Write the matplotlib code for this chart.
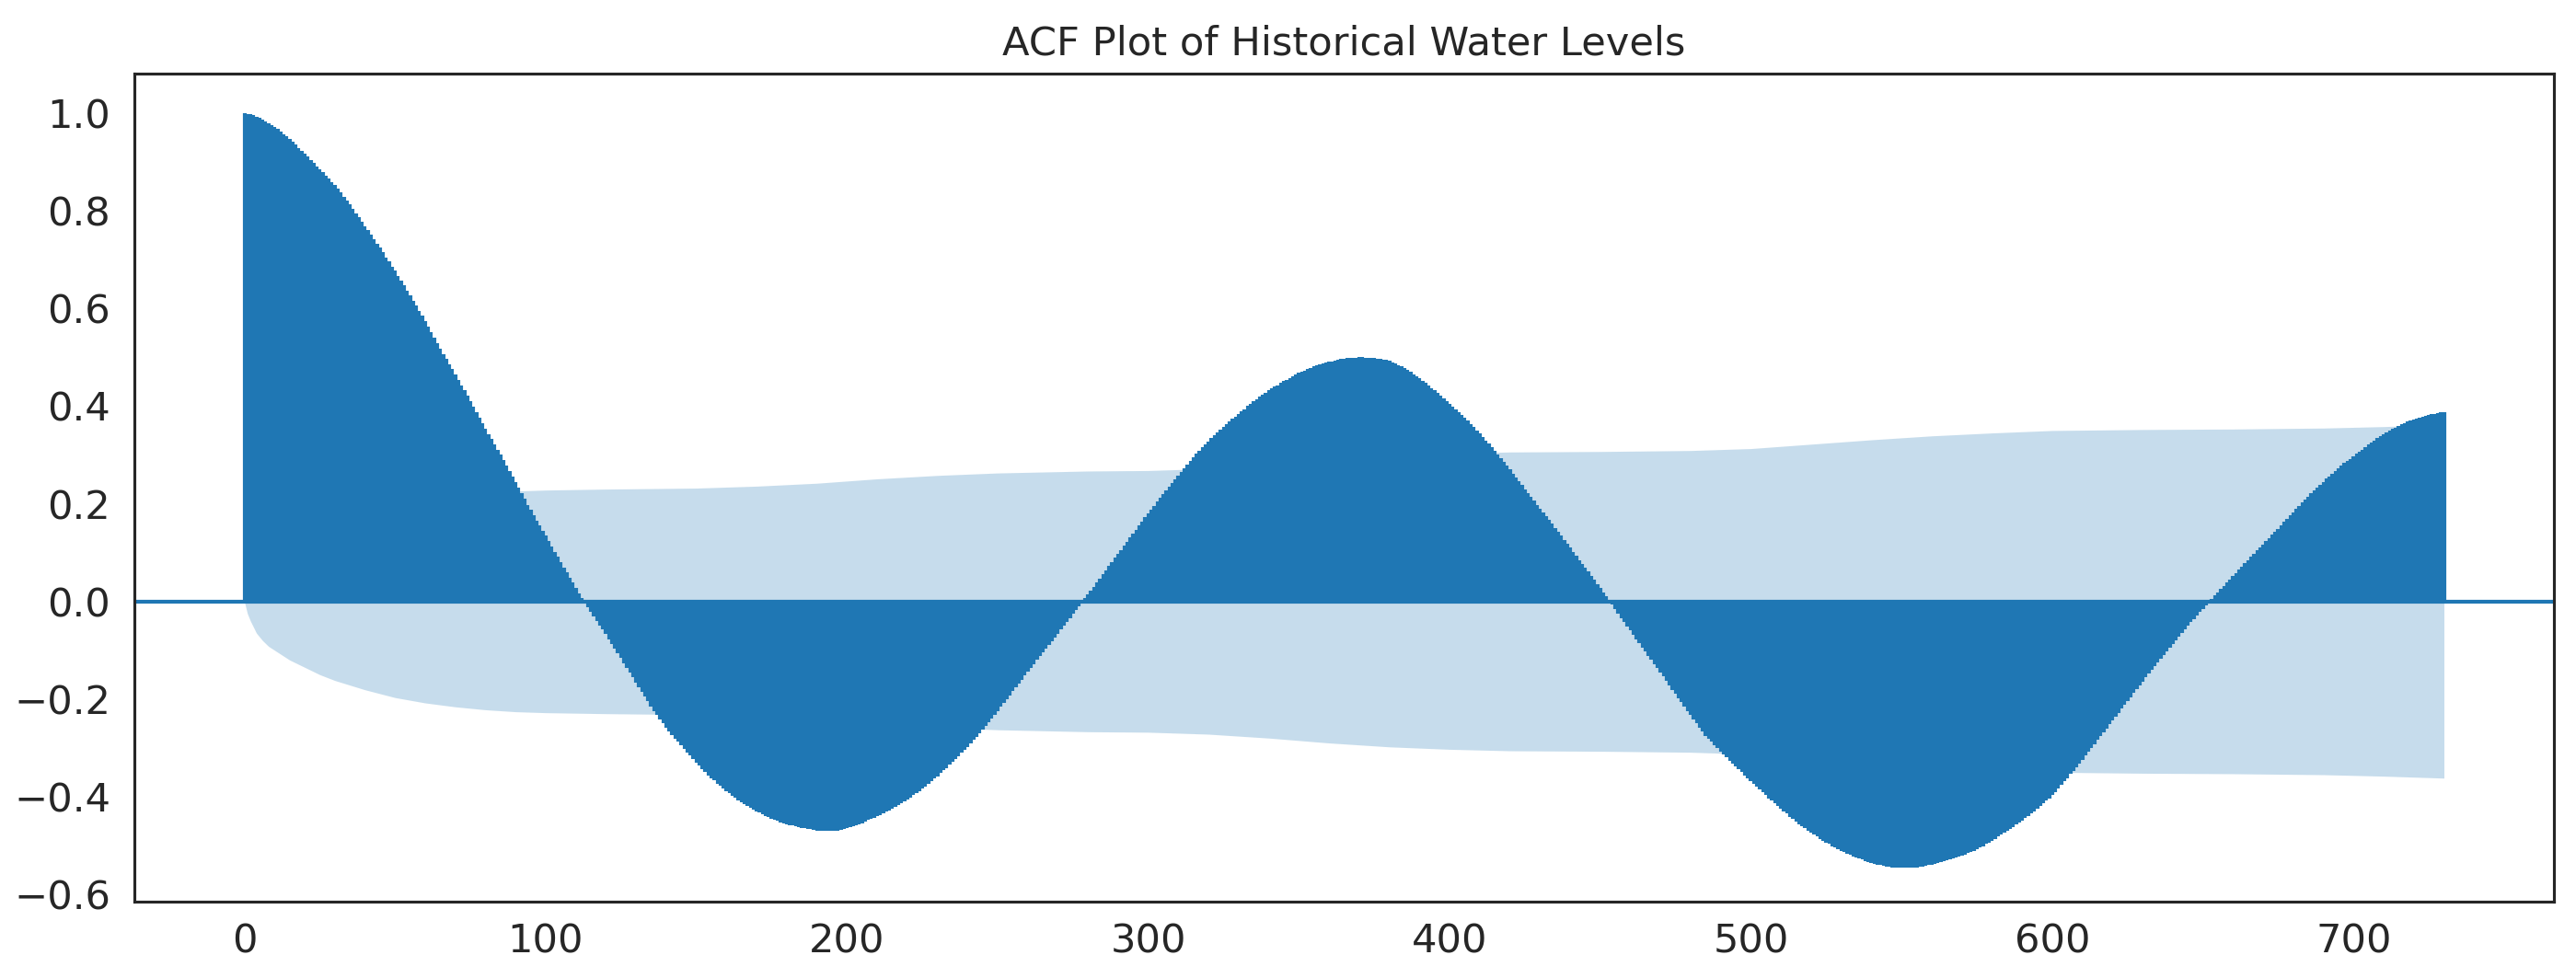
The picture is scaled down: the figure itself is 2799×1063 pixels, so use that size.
import numpy as np
import matplotlib
matplotlib.use("Agg")
import matplotlib.pyplot as plt

# acf value of each lag (0..730)
acf_values = [
    1.000, 0.999, 0.998, 0.996, 0.993, 0.990, 0.986, 0.983, 0.979, 0.976,
    0.972, 0.967, 0.962, 0.957, 0.952, 0.947, 0.941, 0.935, 0.929, 0.923,
    0.917, 0.911, 0.904, 0.898, 0.891, 0.885, 0.879, 0.872, 0.866, 0.859,
    0.853, 0.845, 0.837, 0.829, 0.821, 0.813, 0.804, 0.795, 0.787, 0.778,
    0.769, 0.760, 0.751, 0.742, 0.733, 0.724, 0.715, 0.705, 0.696, 0.686,
    0.677, 0.667, 0.657, 0.647, 0.637, 0.627, 0.616, 0.606, 0.595, 0.585,
    0.574, 0.563, 0.552, 0.540, 0.529, 0.518, 0.507, 0.497, 0.486, 0.476,
    0.465, 0.454, 0.443, 0.432, 0.421, 0.410, 0.399, 0.388, 0.376, 0.365,
    0.354, 0.343, 0.332, 0.322, 0.311, 0.300, 0.289, 0.278, 0.266, 0.255,
    0.244, 0.233, 0.221, 0.210, 0.198, 0.187, 0.177, 0.166, 0.156, 0.145,
    0.135, 0.124, 0.113, 0.102, 0.091, 0.080, 0.069, 0.059, 0.048, 0.038,
    0.027, 0.017, 0.007, -0.002, -0.012, -0.022, -0.031, -0.040, -0.049, -0.058,
    -0.067, -0.077, -0.087, -0.096, -0.106, -0.116, -0.126, -0.136, -0.146, -0.156,
    -0.166, -0.176, -0.186, -0.195, -0.205, -0.215, -0.224, -0.233, -0.241, -0.250,
    -0.259, -0.266, -0.273, -0.281, -0.288, -0.295, -0.302, -0.309, -0.316, -0.323,
    -0.330, -0.336, -0.343, -0.349, -0.356, -0.362, -0.367, -0.373, -0.378, -0.384,
    -0.389, -0.393, -0.398, -0.402, -0.407, -0.411, -0.415, -0.419, -0.422, -0.426,
    -0.430, -0.433, -0.436, -0.439, -0.442, -0.445, -0.447, -0.449, -0.452, -0.454,
    -0.456, -0.458, -0.459, -0.461, -0.462, -0.464, -0.465, -0.466, -0.467, -0.468,
    -0.469, -0.469, -0.470, -0.470, -0.470, -0.470, -0.470, -0.469, -0.468, -0.467,
    -0.465, -0.463, -0.461, -0.458, -0.456, -0.454, -0.451, -0.448, -0.446, -0.443,
    -0.440, -0.437, -0.434, -0.431, -0.428, -0.425, -0.421, -0.417, -0.414, -0.410,
    -0.406, -0.402, -0.397, -0.393, -0.388, -0.384, -0.379, -0.374, -0.368, -0.363,
    -0.358, -0.352, -0.346, -0.341, -0.335, -0.329, -0.323, -0.317, -0.310, -0.304,
    -0.298, -0.291, -0.284, -0.277, -0.270, -0.263, -0.255, -0.247, -0.240, -0.232,
    -0.224, -0.216, -0.208, -0.200, -0.192, -0.184, -0.176, -0.168, -0.160, -0.152,
    -0.144, -0.136, -0.128, -0.120, -0.112, -0.104, -0.096, -0.089, -0.081, -0.074,
    -0.066, -0.058, -0.050, -0.042, -0.034, -0.026, -0.018, -0.010, -0.002, 0.006,
    0.014, 0.022, 0.030, 0.039, 0.047, 0.055, 0.063, 0.072, 0.080, 0.089,
    0.097, 0.105, 0.114, 0.122, 0.131, 0.139, 0.147, 0.155, 0.164, 0.172,
    0.180, 0.188, 0.196, 0.204, 0.212, 0.220, 0.228, 0.235, 0.243, 0.250,
    0.258, 0.265, 0.273, 0.280, 0.288, 0.295, 0.302, 0.308, 0.315, 0.321,
    0.328, 0.334, 0.340, 0.346, 0.352, 0.358, 0.363, 0.368, 0.374, 0.379,
    0.384, 0.389, 0.394, 0.400, 0.405, 0.410, 0.414, 0.419, 0.423, 0.428,
    0.432, 0.436, 0.440, 0.443, 0.447, 0.451, 0.454, 0.458, 0.461, 0.465,
    0.468, 0.471, 0.473, 0.476, 0.478, 0.481, 0.483, 0.485, 0.487, 0.489,
    0.491, 0.492, 0.493, 0.495, 0.496, 0.497, 0.498, 0.498, 0.499, 0.499,
    0.500, 0.500, 0.499, 0.499, 0.498, 0.498, 0.497, 0.496, 0.495, 0.494,
    0.493, 0.490, 0.487, 0.484, 0.481, 0.478, 0.474, 0.470, 0.465, 0.461,
    0.457, 0.452, 0.447, 0.442, 0.437, 0.432, 0.427, 0.421, 0.416, 0.410,
    0.405, 0.399, 0.393, 0.388, 0.382, 0.376, 0.370, 0.363, 0.357, 0.350,
    0.344, 0.337, 0.330, 0.323, 0.316, 0.309, 0.301, 0.293, 0.286, 0.278,
    0.270, 0.262, 0.254, 0.246, 0.238, 0.230, 0.222, 0.214, 0.206, 0.198,
    0.190, 0.182, 0.174, 0.167, 0.159, 0.151, 0.143, 0.135, 0.126, 0.118,
    0.110, 0.102, 0.094, 0.085, 0.077, 0.069, 0.061, 0.052, 0.044, 0.035,
    0.027, 0.018, 0.010, 0.001, -0.007, -0.016, -0.025, -0.034, -0.042, -0.051,
    -0.060, -0.069, -0.077, -0.086, -0.094, -0.103, -0.111, -0.120, -0.128, -0.137,
    -0.145, -0.154, -0.163, -0.172, -0.181, -0.190, -0.199, -0.207, -0.216, -0.224,
    -0.233, -0.241, -0.250, -0.258, -0.267, -0.275, -0.282, -0.288, -0.295, -0.301,
    -0.308, -0.314, -0.320, -0.326, -0.332, -0.338, -0.344, -0.350, -0.356, -0.362,
    -0.368, -0.374, -0.380, -0.385, -0.391, -0.397, -0.403, -0.408, -0.414, -0.419,
    -0.425, -0.430, -0.435, -0.441, -0.446, -0.451, -0.456, -0.460, -0.465, -0.469,
    -0.474, -0.478, -0.482, -0.486, -0.490, -0.494, -0.497, -0.501, -0.504, -0.508,
    -0.511, -0.514, -0.517, -0.519, -0.522, -0.525, -0.527, -0.529, -0.532, -0.534,
    -0.536, -0.537, -0.539, -0.540, -0.542, -0.543, -0.544, -0.545, -0.545, -0.546,
    -0.546, -0.546, -0.546, -0.546, -0.545, -0.545, -0.544, -0.543, -0.541, -0.540,
    -0.539, -0.537, -0.536, -0.534, -0.533, -0.531, -0.529, -0.527, -0.525, -0.523,
    -0.521, -0.518, -0.516, -0.513, -0.511, -0.508, -0.504, -0.501, -0.497, -0.494,
    -0.490, -0.486, -0.482, -0.478, -0.474, -0.470, -0.466, -0.462, -0.457, -0.453,
    -0.449, -0.444, -0.439, -0.435, -0.430, -0.425, -0.419, -0.414, -0.408, -0.403,
    -0.397, -0.390, -0.383, -0.376, -0.369, -0.362, -0.354, -0.347, -0.339, -0.332,
    -0.324, -0.316, -0.308, -0.300, -0.292, -0.284, -0.276, -0.268, -0.260, -0.252,
    -0.244, -0.236, -0.228, -0.220, -0.212, -0.204, -0.196, -0.188, -0.180, -0.172,
    -0.164, -0.156, -0.148, -0.141, -0.133, -0.125, -0.117, -0.110, -0.102, -0.095,
    -0.087, -0.080, -0.072, -0.065, -0.057, -0.050, -0.043, -0.036, -0.029, -0.022,
    -0.015, -0.008, -0.001, 0.005, 0.012, 0.019, 0.026, 0.032, 0.039, 0.045,
    0.052, 0.058, 0.065, 0.071, 0.078, 0.084, 0.091, 0.097, 0.104, 0.110,
    0.117, 0.123, 0.130, 0.136, 0.143, 0.149, 0.156, 0.163, 0.169, 0.176,
    0.183, 0.189, 0.196, 0.202, 0.209, 0.215, 0.221, 0.227, 0.233, 0.239,
    0.245, 0.251, 0.256, 0.262, 0.267, 0.273, 0.278, 0.283, 0.287, 0.292,
    0.297, 0.302, 0.307, 0.311, 0.316, 0.321, 0.325, 0.329, 0.334, 0.338,
    0.342, 0.346, 0.349, 0.353, 0.356, 0.360, 0.363, 0.365, 0.368, 0.370,
    0.373, 0.375, 0.377, 0.378, 0.380, 0.382, 0.383, 0.384, 0.386, 0.387,
    0.388,
]

# confidence band half width, read at a few lags
band_lags = [0, 1, 2, 4, 6, 8, 10, 15, 20, 25, 30, 40, 50, 60, 70, 80, 90, 100,
             120, 150, 170, 190, 210, 230, 250, 280, 300, 320, 340, 360, 380, 400,
             420, 450, 480, 500, 520, 540, 560, 580, 600, 630, 660, 690, 710, 730]
band_half = [0.0, 0.025, 0.04, 0.065, 0.08, 0.092, 0.10, 0.12, 0.135, 0.15, 0.162,
             0.181, 0.197, 0.208, 0.216, 0.222, 0.226, 0.228, 0.230, 0.232, 0.236,
             0.242, 0.251, 0.258, 0.263, 0.267, 0.268, 0.272, 0.280, 0.290, 0.298,
             0.303, 0.306, 0.307, 0.309, 0.313, 0.322, 0.331, 0.339, 0.345, 0.350,
             0.352, 0.353, 0.355, 0.358, 0.362]

title = "ACF Plot of Historical Water Levels"
xticks = [0, 100, 200, 300, 400, 500, 600, 700]
yticks = [-0.6, -0.4, -0.2, 0.0, 0.2, 0.4, 0.6, 0.8, 1.0]

W, H, DPI = 2799, 1063, 300
blue = "#1f77b4"
dark = "#262626"

lags = np.arange(len(acf_values))
band_half = np.array(band_half)

fig = plt.figure(figsize=(W / DPI, H / DPI), dpi=DPI)
ax = fig.add_axes([146 / W, 1 - 980 / H, (2775 - 146) / W, 900 / H])

ax.vlines(lags, 0, acf_values, colors=blue, linewidth=1.0)
ax.axhline(0, color=blue, linewidth=1.0)
ax.fill_between(band_lags, -band_half, band_half, color=blue, alpha=0.25, linewidth=0)

ax.set_xlim(-36.5, 766.5)
ax.set_ylim(-0.615, 1.081)
ax.set_xticks(xticks)
ax.set_yticks(yticks)
ax.set_xticklabels([str(t) for t in xticks])
ax.set_yticklabels([f"{t:.1f}".replace("-", "\u2212") for t in yticks])
ax.tick_params(axis="both", length=0, labelsize=10.4, labelcolor=dark)
ax.tick_params(axis="x", pad=5.3)
ax.tick_params(axis="y", pad=6.2)

for s in ax.spines.values():
    s.set_color(dark)
    s.set_linewidth(0.75)

ax.set_title(title, fontsize=10.4, color=dark, pad=4.8)

fig.savefig("out.png", dpi=DPI)
